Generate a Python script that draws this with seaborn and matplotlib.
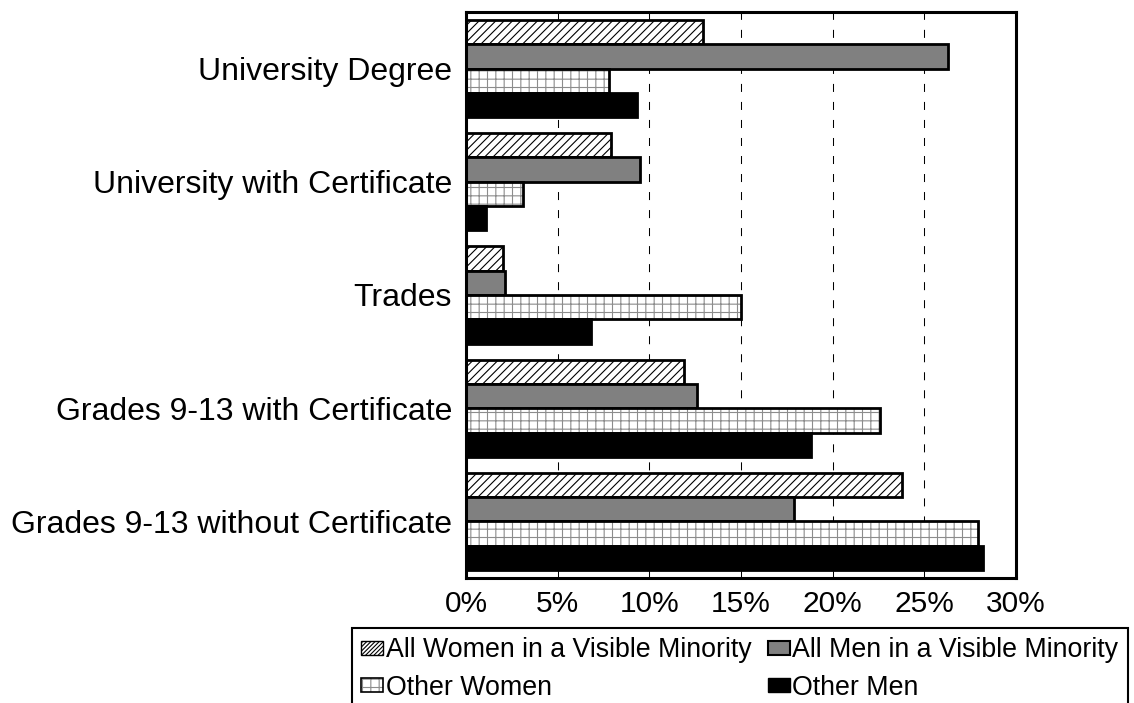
import numpy as np
import pandas as pd
import matplotlib
matplotlib.use("Agg")
import matplotlib.pyplot as plt
import seaborn as sns
from matplotlib.patches import Patch, Rectangle
from matplotlib.legend_handler import HandlerTuple
from matplotlib.ticker import FuncFormatter

# Educational attainment shares (%) by group
categories = [
    "University Degree",
    "University with Certificate",
    "Trades",
    "Grades 9-13 with Certificate",
    "Grades 9-13 without Certificate",
]
series = [
    "All Women in a Visible Minority",
    "All Men in a Visible Minority",
    "Other Women",
    "Other Men",
]
women_vm = [12.9, 7.9, 2.0, 11.9, 23.8]
men_vm = [26.3, 9.5, 2.1, 12.6, 17.9]
other_women = [7.8, 3.1, 15.0, 22.6, 27.9]
other_men = [9.3, 1.1, 6.8, 18.8, 28.2]
x_ticks = [0, 5, 10, 15, 20, 25, 30]

values = [women_vm, men_vm, other_women, other_men]
df = pd.DataFrame({
    "category": categories * len(series),
    "group": [s for s in series for _ in categories],
    "share": [v for vals in values for v in vals],
})

sns.set_theme(style="white")
plt.rcParams["font.family"] = ["Liberation Sans", "DejaVu Sans"]
plt.rcParams["text.color"] = "black"
plt.rcParams["hatch.linewidth"] = 0.8

W, H = 1134, 703
fig = plt.figure(figsize=(W / 100, H / 100), dpi=100)
fig.patch.set_facecolor("white")
ax = fig.add_axes([466 / W, 1 - 578 / H, 550 / W, 566 / H])

sns.barplot(
    data=df, y="category", x="share", hue="group",
    order=categories, hue_order=series,
    palette=["white", "#808080", "white", "black"],
    width=0.86, gap=0, saturation=1,
    edgecolor="black", linewidth=2,
    errorbar=None, legend=False, orient="h", ax=ax,
)

grid_hatch_color = "#8c8c8c"
for p in ax.containers[0]:
    p.set_hatch("////")
for p in ax.containers[2]:
    p.set_hatch("++")
    p.set_edgecolor(grid_hatch_color)
    p.set_linewidth(0)
    ax.add_patch(Rectangle((p.get_x(), p.get_y()), p.get_width(), p.get_height(),
                           fill=False, edgecolor="black", linewidth=2,
                           zorder=p.get_zorder() + 0.1))

ax.set_xlim(0, 30)
ax.set_xticks(x_ticks)
ax.xaxis.set_major_formatter(FuncFormatter(lambda v, _: f"{v:.0f}%"))
ax.set_axisbelow(True)
ax.xaxis.grid(True, color="black", linewidth=0.75, linestyle=(0, (7.7, 9.6)))
ax.yaxis.grid(False)
ax.set_xlabel("")
ax.set_ylabel("")
ax.tick_params(axis="x", length=0, labelsize=21.5, pad=9, colors="black")
ax.tick_params(axis="y", length=0, labelsize=23, pad=10, colors="black")
for s in ax.spines.values():
    s.set_visible(True)
    s.set_color("black")
    s.set_linewidth(2.2)

# Legend entries filled row by row: (women VM, men VM) / (other women, other men)
h_women_vm = Patch(facecolor="white", edgecolor="black", hatch="////////", linewidth=1)
h_men_vm = Patch(facecolor="#808080", edgecolor="black", linewidth=1.5)
h_other_women = (Patch(facecolor="white", edgecolor=grid_hatch_color, hatch="++", linewidth=0),
                 Patch(fill=False, edgecolor="black", linewidth=1.2))
h_other_men = Patch(facecolor="black", edgecolor="black", linewidth=1)

leg = fig.legend(
    [h_women_vm, h_other_women, h_men_vm, h_other_men],
    [series[0], series[2], series[1], series[3]],
    loc="upper left", bbox_to_anchor=(352 / W, 1 - 628 / H),
    ncol=2, frameon=True, fancybox=False, edgecolor="black", framealpha=1,
    fontsize=19.3, handlelength=0.82, handleheight=0.45, handletextpad=0.1,
    columnspacing=0.6, borderpad=0.35, borderaxespad=0, labelspacing=0.42,
    labelcolor="black",
    handler_map={tuple: HandlerTuple(ndivide=1, pad=0)},
)
leg.get_frame().set_linewidth(1.5)

fig.savefig("out.png", dpi=100, facecolor="white")
